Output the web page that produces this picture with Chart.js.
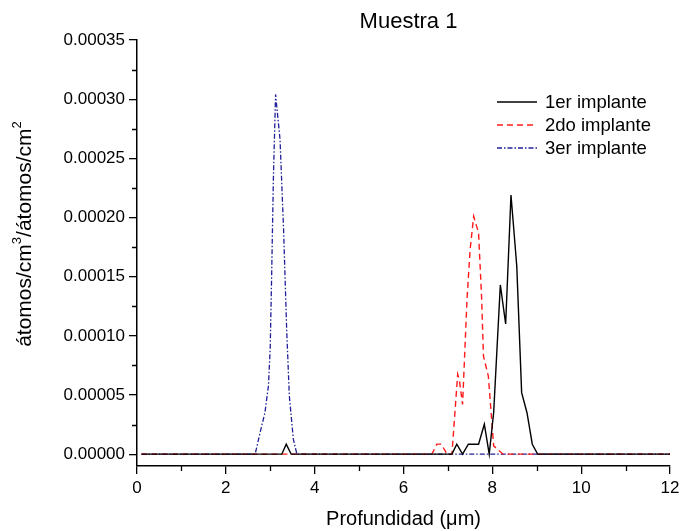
<!DOCTYPE html>
<html lang="es">
<head>
<meta charset="UTF-8">
<title>Muestra 1</title>
<script src="https://cdn.jsdelivr.net/npm/chart.js@4.4.1/dist/chart.umd.min.js"></script>
<style>
  body { margin: 0; background: #fff; }
</style>
</head>
<body>
<canvas id="chart" width="680" height="531"></canvas>
<script>
// profundidad (um) y concentracion
const depth1 = [0.1, 3.26, 3.36, 3.47, 7.09, 7.20, 7.33, 7.46, 7.69, 7.82, 7.93, 8.03, 8.18, 8.30, 8.42, 8.55, 8.66, 8.78, 8.90, 9.02, 12];
const conc1  = [0, 0, 0.0000084, 0, 0, 0.0000084, 0, 0.0000084, 0.0000084, 0.0000253, 0, 0.0000352, 0.000143, 0.000110, 0.000219, 0.000159, 0.000052, 0.000035, 0.0000084, 0, 0];

const depth2 = [0.1, 6.64, 6.75, 6.85, 6.98, 7.09, 7.22, 7.26, 7.33, 7.43, 7.50, 7.58, 7.69, 7.76, 7.80, 7.91, 8.03, 8.24, 12];
const conc2  = [0, 0, 0.0000085, 0.0000085, 0, 0, 0.0000675, 0.000062, 0.000042, 0.000131, 0.000173, 0.000201, 0.000187, 0.000131, 0.000083, 0.000066, 0.000007, 0, 0];

const depth3 = [0.1, 2.66, 2.77, 2.88, 2.96, 3.00, 3.03, 3.07, 3.12, 3.22, 3.30, 3.37, 3.43, 3.52, 3.60, 12];
const conc3  = [0, 0, 0.000018, 0.000035, 0.000058, 0.000091, 0.000148, 0.000232, 0.000304, 0.000266, 0.000190, 0.000105, 0.000049, 0.0000127, 0, 0];

const seriesNames = ['1er implante', '2do implante', '3er implante'];
const xTicks = [0, 2, 4, 6, 8, 10, 12];
const xMinor = [1, 3, 5, 7, 9, 11];
const yTicks = [0, 0.00005, 0.0001, 0.00015, 0.0002, 0.00025, 0.0003, 0.00035];
const yMinor = [0.000025, 0.000075, 0.000125, 0.000175, 0.000225, 0.000275, 0.000325];

const font = 'Arial, "Liberation Sans", sans-serif';

const toPoints = (xs, ys) => xs.map((x, i) => ({ x: x, y: ys[i] }));

// minor ticks, titulo, etiqueta del eje y y leyenda
const extras = {
  id: 'extras',
  afterDraw(chart) {
    const { ctx, chartArea, scales } = chart;
    const xs = scales.x, ys = scales.y;
    ctx.save();
    ctx.strokeStyle = '#000';
    ctx.lineWidth = 1.3;
    ctx.beginPath();
    xMinor.forEach(v => {
      const px = Math.round(xs.getPixelForValue(v)) + 0.5;
      ctx.moveTo(px, chartArea.bottom);
      ctx.lineTo(px, chartArea.bottom + 5);
    });
    yMinor.forEach(v => {
      const py = Math.round(ys.getPixelForValue(v)) + 0.5;
      ctx.moveTo(chartArea.left - 5, py);
      ctx.lineTo(chartArea.left, py);
    });
    ctx.stroke();

    ctx.fillStyle = '#000';
    ctx.textAlign = 'center';
    ctx.textBaseline = 'middle';
    ctx.font = '22px ' + font;
    ctx.fillText('Muestra 1', (chartArea.left + chartArea.right) / 2 + 5, 22);

    // etiqueta del eje y con superindices pequeños
    ctx.save();
    ctx.translate(25, 234);
    ctx.rotate(-Math.PI / 2);
    const parts = [['átomos/cm', 21, 0], ['3', 13, -8], ['/átomos/cm', 21, 0], ['2', 13, -8]];
    let total = 0;
    parts.forEach(p => { ctx.font = p[1] + 'px ' + font; total += ctx.measureText(p[0]).width; });
    let cx = -total / 2;
    ctx.textAlign = 'left';
    parts.forEach(p => {
      ctx.font = p[1] + 'px ' + font;
      ctx.fillText(p[0], cx, p[2]);
      cx += ctx.measureText(p[0]).width;
    });
    ctx.restore();

    ctx.textAlign = 'left';
    ctx.font = '18.5px ' + font;
    chart.data.datasets.forEach((ds, i) => {
      const y = 102 + i * 23;
      ctx.strokeStyle = ds.borderColor;
      ctx.lineWidth = ds.borderWidth;
      ctx.setLineDash(ds.borderDash || []);
      ctx.beginPath();
      ctx.moveTo(497, y);
      ctx.lineTo(537, y);
      ctx.stroke();
      ctx.setLineDash([]);
      ctx.fillText(ds.label, 545, y + 1);
    });
    ctx.restore();
  }
};

new Chart(document.getElementById('chart'), {
  type: 'line',
  data: {
    datasets: [
      { label: seriesNames[0], data: toPoints(depth1, conc1), borderColor: '#000000', borderWidth: 1.4 },
      { label: seriesNames[1], data: toPoints(depth2, conc2), borderColor: '#ff1a1a', borderWidth: 1.4, borderDash: [6, 4] },
      { label: seriesNames[2], data: toPoints(depth3, conc3), borderColor: '#1f1f9a', borderWidth: 1.3, borderDash: [5, 2, 1.5, 2] }
    ]
  },
  options: {
    responsive: false,
    animation: false,
    layout: { padding: { top: 40, right: 10, left: 0, bottom: 0 } },
    elements: { point: { radius: 0 }, line: { tension: 0 } },
    plugins: { legend: { display: false }, title: { display: false }, tooltip: { enabled: false } },
    scales: {
      x: {
        type: 'linear',
        min: 0,
        max: 12,
        afterBuildTicks: s => { s.ticks = xTicks.map(v => ({ value: v })); },
        afterFit: s => { s.height = 65; s.paddingLeft = 0; s.paddingRight = 0; },
        grid: { drawOnChartArea: false, tickLength: 8, color: '#000', lineWidth: 1.3 },
        border: { color: '#000', width: 1.5 },
        ticks: { color: '#000', font: { family: font, size: 17 }, padding: 4, maxRotation: 0 },
        title: { display: true, text: 'Profundidad (μm)', color: '#000', font: { family: font, size: 20 }, padding: { top: 0, bottom: 0 } }
      },
      y: {
        type: 'linear',
        min: -0.00001,
        max: 0.00035,
        afterBuildTicks: s => { s.ticks = yTicks.map(v => ({ value: v })); },
        afterFit: s => { s.width = 137; s.paddingTop = 0; s.paddingBottom = 0; },
        grid: { drawOnChartArea: false, tickLength: 8, color: '#000', lineWidth: 1.3 },
        border: { color: '#000', width: 1.5 },
        ticks: { color: '#000', font: { family: font, size: 17 }, padding: 4, callback: v => v.toFixed(5) }
      }
    }
  },
  plugins: [extras]
});
</script>
</body>
</html>
